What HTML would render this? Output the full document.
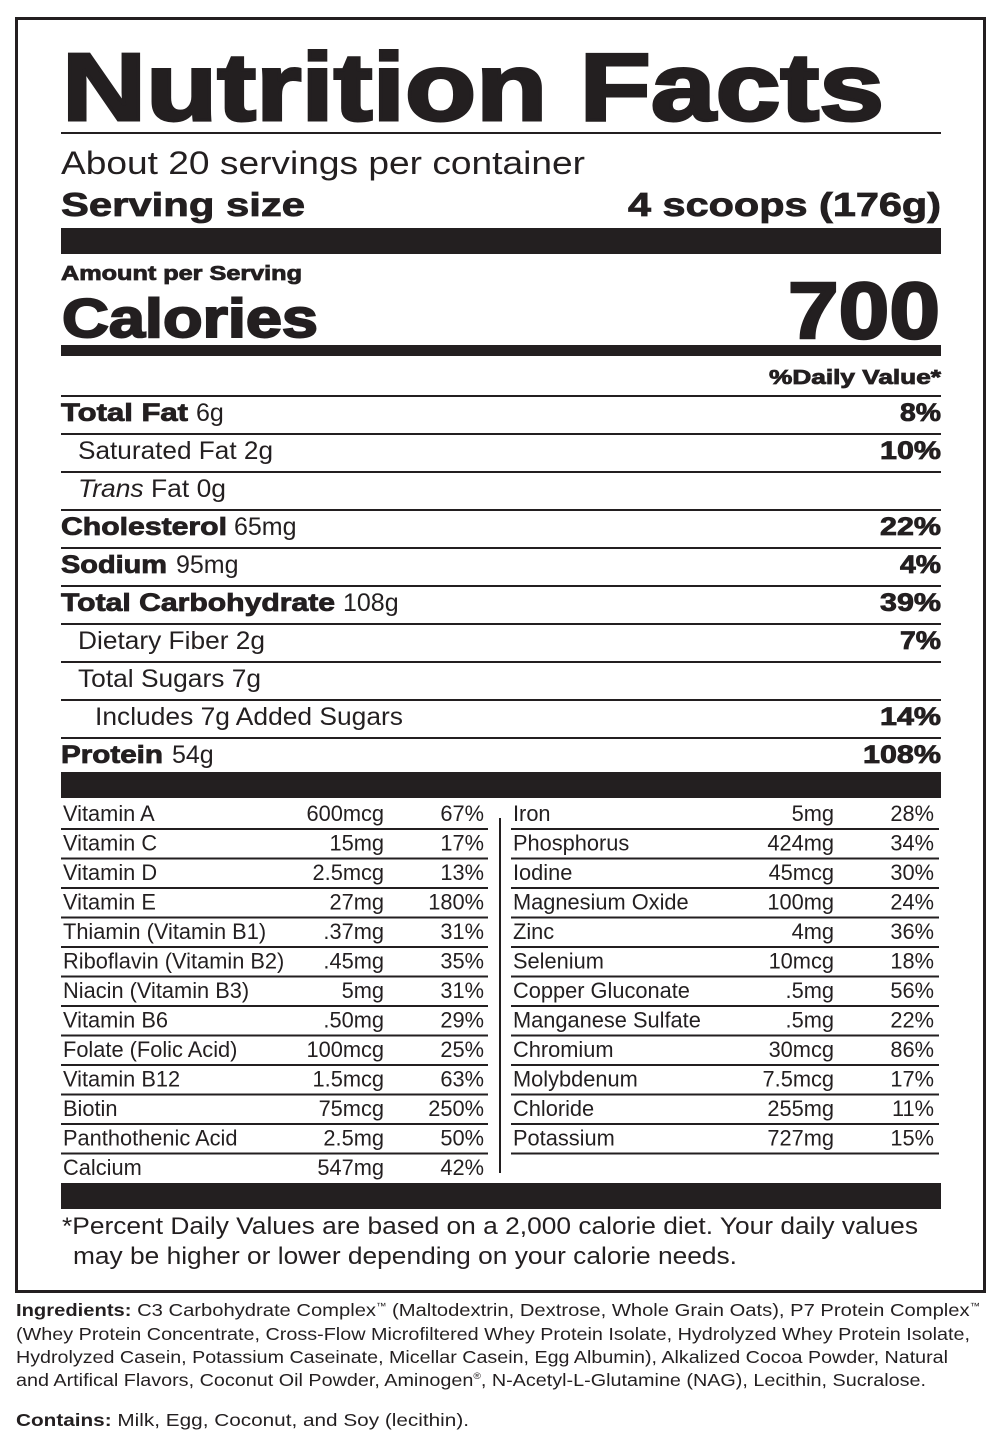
<!DOCTYPE html>
<html><head><meta charset="utf-8"><style>
html,body{margin:0;padding:0;background:#fff}
svg{display:block}
text{font-family:"Liberation Sans",Arial,sans-serif;fill:#231f20}
.b{font-weight:bold}
.h{stroke:#231f20;stroke-width:0.8px}
</style></head><body>
<svg width="1000" height="1449" viewBox="0 0 1000 1449" xmlns="http://www.w3.org/2000/svg">
<rect x="16.5" y="18.5" width="968" height="1273" fill="none" stroke="#231f20" stroke-width="3"/>
<text x="62" y="120" class="b" font-size="96" stroke="#231f20" stroke-width="3" textLength="822" lengthAdjust="spacingAndGlyphs">Nutrition Facts</text>
<rect x="61" y="132" width="880" height="2" fill="#231f20"/>
<text x="61" y="174" font-size="32" textLength="524" lengthAdjust="spacingAndGlyphs">About 20 servings per container</text>
<text x="61" y="216" class="b h" font-size="33" textLength="244" lengthAdjust="spacingAndGlyphs">Serving size</text>
<text x="941" y="216" class="b h" font-size="33" text-anchor="end" textLength="313" lengthAdjust="spacingAndGlyphs">4 scoops (176g)</text>
<rect x="61" y="228" width="880" height="26" fill="#231f20"/>
<text x="61" y="280" class="b h" font-size="20" textLength="241" lengthAdjust="spacingAndGlyphs">Amount per Serving</text>
<text x="62" y="337" class="b" font-size="55" stroke="#231f20" stroke-width="2" textLength="256" lengthAdjust="spacingAndGlyphs">Calories</text>
<text x="940" y="338" class="b" font-size="80" stroke="#231f20" stroke-width="2.5" text-anchor="end" textLength="152" lengthAdjust="spacingAndGlyphs">700</text>
<rect x="61" y="345" width="880" height="11" fill="#231f20"/>
<text x="941" y="384" class="b h" font-size="20" text-anchor="end" textLength="172" lengthAdjust="spacingAndGlyphs">%Daily Value*</text>
<g fill="#231f20">
<rect x="61" y="395" width="880" height="2"/><rect x="61" y="433" width="880" height="2"/>
<rect x="61" y="471" width="880" height="2"/><rect x="61" y="509" width="880" height="2"/>
<rect x="61" y="547" width="880" height="2"/><rect x="61" y="585" width="880" height="2"/>
<rect x="61" y="623" width="880" height="2"/><rect x="61" y="661" width="880" height="2"/>
<rect x="61" y="699" width="880" height="2"/><rect x="61" y="737" width="880" height="2"/>
</g>
<g font-size="25">
<text x="61" y="421" class="b h" textLength="127" lengthAdjust="spacingAndGlyphs">Total Fat</text><text x="196" y="421">6g</text>
<text x="941" y="421" text-anchor="end" class="b h" textLength="41" lengthAdjust="spacingAndGlyphs">8%</text>
<text x="78" y="459" textLength="195" lengthAdjust="spacingAndGlyphs">Saturated Fat 2g</text>
<text x="941" y="459" text-anchor="end" class="b h" textLength="61" lengthAdjust="spacingAndGlyphs">10%</text>
<text x="78" y="497" textLength="148" lengthAdjust="spacingAndGlyphs"><tspan font-style="italic">Trans</tspan> Fat 0g</text>
<text x="61" y="535" class="b h" textLength="166" lengthAdjust="spacingAndGlyphs">Cholesterol</text><text x="234" y="535">65mg</text>
<text x="941" y="535" text-anchor="end" class="b h" textLength="61" lengthAdjust="spacingAndGlyphs">22%</text>
<text x="61" y="573" class="b h" textLength="106" lengthAdjust="spacingAndGlyphs">Sodium</text><text x="176" y="573">95mg</text>
<text x="941" y="573" text-anchor="end" class="b h" textLength="41" lengthAdjust="spacingAndGlyphs">4%</text>
<text x="61" y="611" class="b h" textLength="274" lengthAdjust="spacingAndGlyphs">Total Carbohydrate</text><text x="343" y="611">108g</text>
<text x="941" y="611" text-anchor="end" class="b h" textLength="61" lengthAdjust="spacingAndGlyphs">39%</text>
<text x="78" y="649" textLength="187" lengthAdjust="spacingAndGlyphs">Dietary Fiber 2g</text>
<text x="941" y="649" text-anchor="end" class="b h" textLength="41" lengthAdjust="spacingAndGlyphs">7%</text>
<text x="78" y="687" textLength="183" lengthAdjust="spacingAndGlyphs">Total Sugars 7g</text>
<text x="95" y="725" textLength="308" lengthAdjust="spacingAndGlyphs">Includes 7g Added Sugars</text>
<text x="941" y="725" text-anchor="end" class="b h" textLength="61" lengthAdjust="spacingAndGlyphs">14%</text>
<text x="61" y="763" class="b h" textLength="102" lengthAdjust="spacingAndGlyphs">Protein</text><text x="172" y="763">54g</text>
<text x="941" y="763" text-anchor="end" class="b h" textLength="78" lengthAdjust="spacingAndGlyphs">108%</text>
</g>
<rect x="61" y="772" width="880" height="26" fill="#231f20"/>
<rect x="499" y="818" width="2" height="355" fill="#231f20"/>
<g font-size="21.8">
<text x="63" y="821">Vitamin A</text><text x="384" y="821" text-anchor="end">600mcg</text><text x="484" y="821" text-anchor="end">67%</text>
<text x="63" y="850.5">Vitamin C</text><text x="384" y="850.5" text-anchor="end">15mg</text><text x="484" y="850.5" text-anchor="end">17%</text>
<text x="63" y="880">Vitamin D</text><text x="384" y="880" text-anchor="end">2.5mcg</text><text x="484" y="880" text-anchor="end">13%</text>
<text x="63" y="909.5">Vitamin E</text><text x="384" y="909.5" text-anchor="end">27mg</text><text x="484" y="909.5" text-anchor="end">180%</text>
<text x="63" y="939">Thiamin (Vitamin B1)</text><text x="384" y="939" text-anchor="end">.37mg</text><text x="484" y="939" text-anchor="end">31%</text>
<text x="63" y="968.5">Riboflavin (Vitamin B2)</text><text x="384" y="968.5" text-anchor="end">.45mg</text><text x="484" y="968.5" text-anchor="end">35%</text>
<text x="63" y="998">Niacin (Vitamin B3)</text><text x="384" y="998" text-anchor="end">5mg</text><text x="484" y="998" text-anchor="end">31%</text>
<text x="63" y="1027.5">Vitamin B6</text><text x="384" y="1027.5" text-anchor="end">.50mg</text><text x="484" y="1027.5" text-anchor="end">29%</text>
<text x="63" y="1057">Folate (Folic Acid)</text><text x="384" y="1057" text-anchor="end">100mcg</text><text x="484" y="1057" text-anchor="end">25%</text>
<text x="63" y="1086.5">Vitamin B12</text><text x="384" y="1086.5" text-anchor="end">1.5mcg</text><text x="484" y="1086.5" text-anchor="end">63%</text>
<text x="63" y="1116">Biotin</text><text x="384" y="1116" text-anchor="end">75mcg</text><text x="484" y="1116" text-anchor="end">250%</text>
<text x="63" y="1145.5">Panthothenic Acid</text><text x="384" y="1145.5" text-anchor="end">2.5mg</text><text x="484" y="1145.5" text-anchor="end">50%</text>
<text x="63" y="1175">Calcium</text><text x="384" y="1175" text-anchor="end">547mg</text><text x="484" y="1175" text-anchor="end">42%</text>
<text x="513" y="821">Iron</text><text x="834" y="821" text-anchor="end">5mg</text><text x="934" y="821" text-anchor="end">28%</text>
<text x="513" y="850.5">Phosphorus</text><text x="834" y="850.5" text-anchor="end">424mg</text><text x="934" y="850.5" text-anchor="end">34%</text>
<text x="513" y="880">Iodine</text><text x="834" y="880" text-anchor="end">45mcg</text><text x="934" y="880" text-anchor="end">30%</text>
<text x="513" y="909.5">Magnesium Oxide</text><text x="834" y="909.5" text-anchor="end">100mg</text><text x="934" y="909.5" text-anchor="end">24%</text>
<text x="513" y="939">Zinc</text><text x="834" y="939" text-anchor="end">4mg</text><text x="934" y="939" text-anchor="end">36%</text>
<text x="513" y="968.5">Selenium</text><text x="834" y="968.5" text-anchor="end">10mcg</text><text x="934" y="968.5" text-anchor="end">18%</text>
<text x="513" y="998">Copper Gluconate</text><text x="834" y="998" text-anchor="end">.5mg</text><text x="934" y="998" text-anchor="end">56%</text>
<text x="513" y="1027.5">Manganese Sulfate</text><text x="834" y="1027.5" text-anchor="end">.5mg</text><text x="934" y="1027.5" text-anchor="end">22%</text>
<text x="513" y="1057">Chromium</text><text x="834" y="1057" text-anchor="end">30mcg</text><text x="934" y="1057" text-anchor="end">86%</text>
<text x="513" y="1086.5">Molybdenum</text><text x="834" y="1086.5" text-anchor="end">7.5mcg</text><text x="934" y="1086.5" text-anchor="end">17%</text>
<text x="513" y="1116">Chloride</text><text x="834" y="1116" text-anchor="end">255mg</text><text x="934" y="1116" text-anchor="end">11%</text>
<text x="513" y="1145.5">Potassium</text><text x="834" y="1145.5" text-anchor="end">727mg</text><text x="934" y="1145.5" text-anchor="end">15%</text>
</g>
<g fill="#231f20">
<rect x="61" y="828" width="427" height="2"/><rect x="511" y="828" width="428" height="2"/>
<rect x="61" y="857.5" width="427" height="2"/><rect x="511" y="857.5" width="428" height="2"/>
<rect x="61" y="887" width="427" height="2"/><rect x="511" y="887" width="428" height="2"/>
<rect x="61" y="916.5" width="427" height="2"/><rect x="511" y="916.5" width="428" height="2"/>
<rect x="61" y="946" width="427" height="2"/><rect x="511" y="946" width="428" height="2"/>
<rect x="61" y="975.5" width="427" height="2"/><rect x="511" y="975.5" width="428" height="2"/>
<rect x="61" y="1005" width="427" height="2"/><rect x="511" y="1005" width="428" height="2"/>
<rect x="61" y="1034.5" width="427" height="2"/><rect x="511" y="1034.5" width="428" height="2"/>
<rect x="61" y="1064" width="427" height="2"/><rect x="511" y="1064" width="428" height="2"/>
<rect x="61" y="1093.5" width="427" height="2"/><rect x="511" y="1093.5" width="428" height="2"/>
<rect x="61" y="1123" width="427" height="2"/><rect x="511" y="1123" width="428" height="2"/>
<rect x="61" y="1152.5" width="427" height="2"/><rect x="511" y="1152.5" width="428" height="2"/>
</g>
<rect x="61" y="1183" width="880" height="26" fill="#231f20"/>
<text x="62" y="1234" font-size="24" textLength="856" lengthAdjust="spacingAndGlyphs">*Percent Daily Values are based on a 2,000 calorie diet. Your daily values</text>
<text x="73" y="1264" font-size="24" textLength="664" lengthAdjust="spacingAndGlyphs">may be higher or lower depending on your calorie needs.</text>
<g font-size="17.5">
<text x="16" y="1316" textLength="964" lengthAdjust="spacingAndGlyphs"><tspan class="b">Ingredients:</tspan> C3 Carbohydrate Complex<tspan font-size="9" dy="-7">™</tspan><tspan dy="7"> (Maltodextrin, Dextrose, Whole Grain Oats), P7 Protein Complex</tspan><tspan font-size="9" dy="-7">™</tspan></text>
<text x="16" y="1340" textLength="954" lengthAdjust="spacingAndGlyphs">(Whey Protein Concentrate, Cross-Flow Microfiltered Whey Protein Isolate, Hydrolyzed Whey Protein Isolate,</text>
<text x="16" y="1363" textLength="932" lengthAdjust="spacingAndGlyphs">Hydrolyzed Casein, Potassium Caseinate, Micellar Casein, Egg Albumin), Alkalized Cocoa Powder, Natural</text>
<text x="16" y="1386" textLength="910" lengthAdjust="spacingAndGlyphs">and Artifical Flavors, Coconut Oil Powder, Aminogen<tspan font-size="9" dy="-7">®</tspan><tspan dy="7">, N-Acetyl-L-Glutamine (NAG), Lecithin, Sucralose.</tspan></text>
<text x="16" y="1426" textLength="453" lengthAdjust="spacingAndGlyphs"><tspan class="b">Contains:</tspan> Milk, Egg, Coconut, and Soy (lecithin).</text>
</g>
</svg>
</body></html>
